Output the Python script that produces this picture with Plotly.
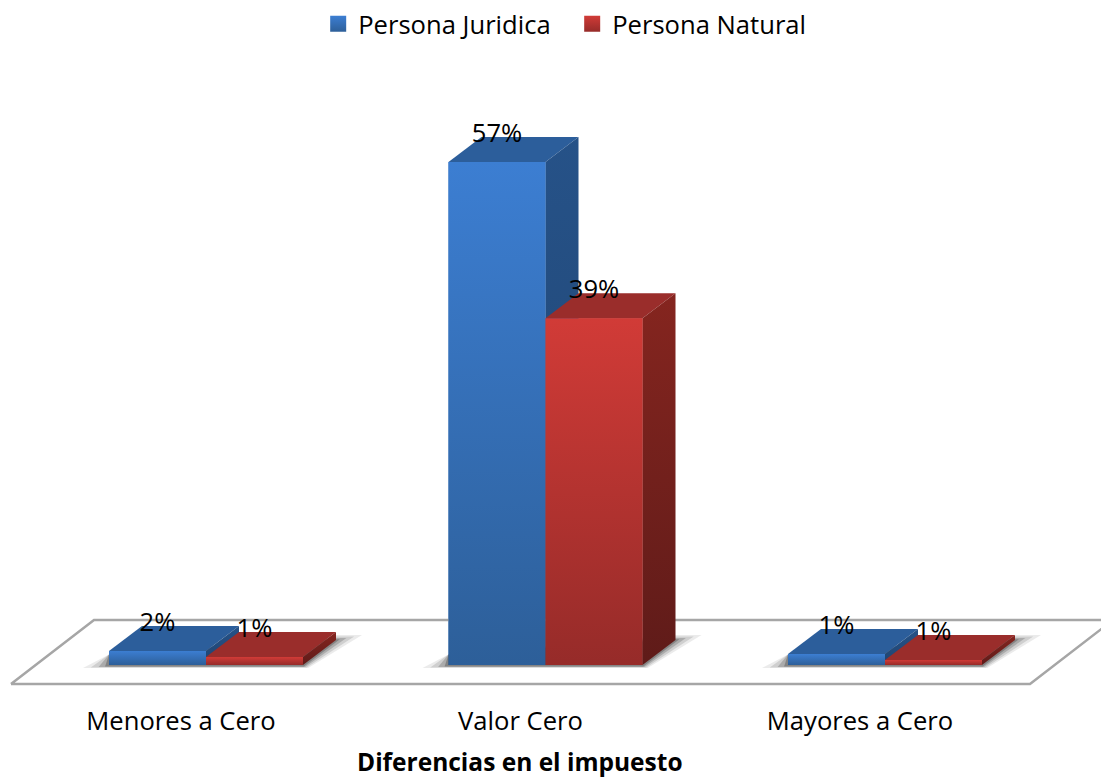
import plotly.graph_objects as go

# data
categories = ['Menores a Cero', 'Valor Cero', 'Mayores a Cero']
juridica = [1.6, 57.0, 1.25]
natural = [0.9, 39.3, 0.57]
x_title = 'Diferencias en el impuesto'

FONT = 'Open Sans'
BAR_W = 0.2857        # one bar, in category units
DX = 33 / 339.5       # depth of the fake 3D box
DY = 25 / 8.825
LABEL_UP = 3.0
TICK_SHIFT = -25 / 339.5

BLUE = dict(name='Persona Juridica', front=('#2d5f99', '#3c7ed2'), top='#2c5e9b',
            side=('#1f4471', '#265288'), solid='#3370b8')
RED = dict(name='Persona Natural', front=('#962b29', '#d13b37'), top='#9a2d2b',
           side=('#5f1b19', '#85251f'), solid='#b53330')

fig = go.Figure()
positions = list(range(len(categories)))


def polygon(xs, ys, color=None, gradient=None):
    trace = go.Scatter(x=xs + xs[:1], y=ys + ys[:1], mode='lines', fill='toself',
                       line=dict(width=0), hoverinfo='skip', showlegend=False)
    if gradient:
        trace.fillgradient = dict(type='vertical',
                                  colorscale=[[0, gradient[0]], [1, gradient[1]]])
    else:
        trace.fillcolor = color
    return trace


# real bars, the gradient faces are painted on top of them
for series, values, shift in [(BLUE, juridica, -BAR_W), (RED, natural, 0)]:
    fig.add_trace(go.Bar(x=positions, y=values, width=BAR_W, offset=shift,
                         marker=dict(color=series['solid'], line=dict(width=0)),
                         showlegend=False, hoverinfo='skip'))

# floor
fx0, fx1 = (11 - 206) / 339.5, (1030 - 206) / 339.5
fy0, fy1 = -19 / 8.825, 45 / 8.825
fdx = 83 / 339.5
fig.add_trace(go.Scatter(x=[fx0, fx1, fx1 + fdx, fx0 + fdx, fx0],
                         y=[fy0, fy0, fy1, fy1, fy0], mode='lines',
                         line=dict(color='#a6a6a6', width=2.5),
                         hoverinfo='skip', showlegend=False))

# soft shadow under each group
for pos in positions:
    for grow, alpha in [(1.0, 0.10), (0.7, 0.16), (0.4, 0.24), (0.15, 0.34)]:
        gx = 26 * grow / 339.5
        gy = 3 * (0.4 + grow * 0.6) / 8.825
        left, right = pos - BAR_W, pos + BAR_W
        top = DY * (1 + 0.2 * grow)
        fig.add_trace(polygon(
            [left - gx, right + gx * 0.2, right + DX + gx, right + DX, left],
            [-gy, -gy, top, top, 1.2],
            color=f'rgba(60,60,60,{alpha})'))

# boxes
for series, values, shift in [(BLUE, juridica, -BAR_W), (RED, natural, 0)]:
    for pos, val in zip(positions, values):
        left, right = pos + shift, pos + shift + BAR_W
        fig.add_trace(polygon([left, right, right + DX, left + DX],
                              [val, val, val + DY, val + DY], color=series['top']))
        fig.add_trace(polygon([right, right + DX, right + DX, right],
                              [0, DY, val + DY, val], gradient=series['side']))
        fig.add_trace(polygon([left, right, right, left],
                              [0, 0, val, val], gradient=series['front']))

# value labels
for values, shift in [(juridica, -BAR_W / 2), (natural, BAR_W / 2)]:
    fig.add_trace(go.Scatter(x=[p + shift for p in positions],
                             y=[v + LABEL_UP for v in values],
                             mode='text', text=[f'{v:.0f}%' for v in values],
                             textposition='middle center',
                             textfont=dict(family=FONT, size=25.6, color='black'),
                             hoverinfo='skip', showlegend=False))

# legend entries
for series in [BLUE, RED]:
    fig.add_trace(go.Scatter(x=[None], y=[None], mode='markers', name=series['name'],
                             marker=dict(symbol='square', size=16,
                                         color=series['front'][1],
                                         gradient=dict(type='vertical',
                                                       color=series['front'][0]),
                                         line=dict(width=0))))

# axis title sits left of the axis centre, so it is an annotation
fig.add_annotation(text=f'<b>{x_title}</b>', xref='paper', yref='paper',
                   x=520 / 1101, y=-71 / 690, xanchor='center', yanchor='middle',
                   showarrow=False, font=dict(family=FONT, size=24.5))

fig.update_layout(
    width=1101, height=778,
    margin=dict(l=0, r=0, t=0, b=88, pad=0),
    paper_bgcolor='white', plot_bgcolor='white',
    barmode='overlay',
    font=dict(family=FONT, color='black'),
    legend=dict(orientation='h', x=0.289, xanchor='left', y=0.999, yanchor='top',
                entrywidth=209, entrywidthmode='pixels',
                font=dict(family=FONT, size=25.6)),
    xaxis=dict(range=[-206 / 339.5, 895 / 339.5], showgrid=False, zeroline=False,
               showline=False, automargin=False, tickmode='array',
               tickvals=[p + TICK_SHIFT for p in positions], ticktext=categories,
               ticks='outside', ticklen=8, tickcolor='rgba(0,0,0,0)',
               tickfont=dict(family=FONT, size=25.6)),
    yaxis=dict(range=[-25 / 8.825, 665 / 8.825], visible=False),
)

fig.write_html("out.html", config=dict(displayModeBar=False),
               post_script="document.body.style.margin='0';")
